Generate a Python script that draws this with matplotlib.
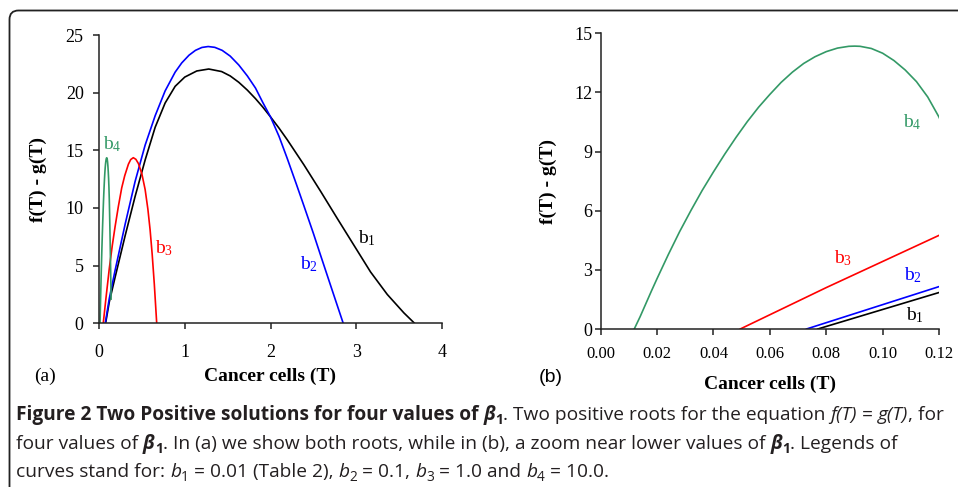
import matplotlib
matplotlib.use("Agg")
import matplotlib.pyplot as plt
from matplotlib.patches import FancyBboxPatch
from matplotlib.transforms import IdentityTransform

plt.rcParams['mathtext.fontset'] = 'custom'
plt.rcParams['mathtext.rm'] = 'Liberation Serif'
plt.rcParams['mathtext.it'] = 'Liberation Serif:italic'

# curves: T values and f(T) - g(T)
t_b1 = [0.077, 0.12, 0.188, 0.305, 0.421, 0.538, 0.655, 0.771, 0.888, 1.0, 1.14, 1.28,
        1.43, 1.53, 1.63, 1.73, 1.825, 1.91, 2.0, 2.1, 2.195, 2.389, 2.584, 2.778, 2.972,
        3.167, 3.362, 3.556, 3.68]
f_b1 = [0, 1.85, 4.0, 7.6, 11.0, 14.16, 17.0, 19.1, 20.55, 21.35, 21.88, 22.05,
        21.83, 21.45, 20.9, 20.22, 19.48, 18.75, 17.9, 16.92, 15.92, 13.75, 11.45, 9.1, 6.78,
        4.45, 2.5, 0.9, 0]

t_b2 = [0.073, 0.12, 0.188, 0.305, 0.421, 0.538, 0.655, 0.771, 0.888, 0.965, 1.05, 1.125,
        1.2, 1.273, 1.35, 1.436, 1.53, 1.63, 1.73, 1.825, 1.91, 2.0, 2.1, 2.195, 2.3, 2.389,
        2.5, 2.584, 2.7, 2.848]
f_b2 = [0, 2.15, 4.6, 8.6, 12.3, 15.45, 18.0, 20.15, 21.78, 22.58, 23.25, 23.67,
        23.92, 24.0, 23.93, 23.67, 23.17, 22.4, 21.45, 20.4, 19.15, 17.9, 16.2, 14.3, 12.1, 10.2,
        7.8, 5.9, 3.3, 0]

t_b3 = [0.0495, 0.08, 0.12, 0.155, 0.188, 0.225, 0.265, 0.30, 0.343, 0.37, 0.40, 0.43,
        0.46, 0.50, 0.538, 0.57, 0.596, 0.62, 0.645, 0.673]
f_b3 = [0, 2.1, 4.75, 6.75, 8.4, 10.1, 11.75, 12.8, 13.8, 14.2, 14.36, 14.22,
        13.85, 12.95, 11.6, 9.9, 8.1, 6.0, 3.4, 0]

t_b4 = [0.0119, 0.014, 0.016, 0.018, 0.020, 0.024, 0.028, 0.032, 0.036, 0.040, 0.044,
        0.048, 0.052, 0.056, 0.060, 0.064, 0.068, 0.072, 0.076, 0.080, 0.084, 0.088, 0.0901,
        0.092, 0.096, 0.100, 0.104, 0.108, 0.112, 0.116, 0.120, 0.124, 0.13, 0.136, 0.141]
f_b4 = [0, 0.63, 1.28, 1.93, 2.56, 3.78, 4.94, 6.01, 7.03, 7.97, 8.87,
        9.72, 10.52, 11.25, 11.9, 12.51, 13.03, 13.47, 13.81, 14.07, 14.25, 14.34, 14.35,
        14.34, 14.23, 13.99, 13.62, 13.14, 12.55, 11.77, 10.75, 9.4, 7.15, 4.55, 2.1]

curves = [(t_b1, f_b1, 'black'), (t_b2, f_b2, '#0000ff'),
          (t_b3, f_b3, '#ff0000'), (t_b4, f_b4, '#339966')]

# label positions (a) and (b)
lab_a = [(3.12, 7.4), (2.45, 5.1), (0.76, 6.5), (0.16, 15.5)]
lab_b = [(0.1116, 0.7), (0.1107, 2.75), (0.0861, 3.6), (0.1105, 10.5)]

W, H = 958, 487
fig = plt.figure(figsize=(W / 100, H / 100), dpi=100)
serif = 'Liberation Serif'


def style_ax(ax, xpad, ypad):
    for s in ['top', 'right']:
        ax.spines[s].set_visible(False)
    for s in ['left', 'bottom']:
        ax.spines[s].set_linewidth(1.1)
        ax.spines[s].set_color('#222222')
    ax.tick_params(direction='out', length=4, width=1.1, color='#222222', labelsize=13)
    ax.tick_params(axis='x', pad=xpad)
    ax.tick_params(axis='y', pad=ypad)
    for t in ax.get_xticklabels() + ax.get_yticklabels():
        t.set_fontfamily(serif)
    ax.set_ylabel("f(T) - g(T)", fontfamily=serif, fontweight='bold', fontsize=14, va='center')
    ax.set_xlabel("Cancer cells (T)", fontfamily=serif, fontweight='bold', fontsize=14, va='center')


ax1 = fig.add_axes([99 / W, 1 - 323.3 / H, 343 / W, 288.3 / H])
ax2 = fig.add_axes([600.7 / W, 1 - 329 / H, 338.3 / W, 295.7 / H])

for ax, labs in [(ax1, lab_a), (ax2, lab_b)]:
    for i, (t, f, c) in enumerate(curves):
        ax.plot(t, f, color=c, lw=1.2)
        ax.text(labs[i][0], labs[i][1], r"b$_%d$" % (i + 1), color=c, fontsize=14,
                fontfamily=serif, ha='center', va='center')

ax1.set_xlim(0, 4)
ax1.set_ylim(0, 25)
ax1.set_xticks([0, 1, 2, 3, 4])
ax1.set_yticks([0, 5, 10, 15, 20, 25])
ax2.set_xlim(0, 0.12)
ax2.set_ylim(0, 15)
ax2.set_xticks([0, 0.02, 0.04, 0.06, 0.08, 0.10, 0.12])
ax2.set_xticklabels(["0.00", "0.02", "0.04", "0.06", "0.08", "0.10", "0.12"])
ax2.set_yticks([0, 3, 6, 9, 12, 15])
style_ax(ax1, 11, 7)
style_ax(ax2, 8, 2)
for t in ax2.get_xticklabels():
    t.set_fontsize(12)
ax1.yaxis.set_label_coords(-0.178, 0.5)
ax1.xaxis.set_label_coords(0.5, -0.183)
ax2.yaxis.set_label_coords(-0.156, 0.5)
ax2.xaxis.set_label_coords(0.5, -0.186)

fig.text(45 / W, 1 - 376 / H, "(a)", fontfamily=serif, fontsize=14, ha='center', va='center')
fig.text(551 / W, 1 - 378 / H, "(b)", fontfamily='Liberation Sans', fontsize=14,
         ha='center', va='center')

# rounded frame
fig.patches.append(FancyBboxPatch((9.5, -30), 1000, H - 10.5 + 30,
                                  boxstyle="round,pad=0,rounding_size=9",
                                  transform=IdentityTransform(), fill=False,
                                  lw=1.3, ec='#222222'))

# caption, drawn piece by piece
cap_font = 'Open Sans'
cap_size = 13.8
renderer = fig.canvas.get_renderer()


def seg_width(s, **kw):
    a = fig.text(0, 0, "|" + s + "|", **kw)
    b = fig.text(0, 0, "||", **kw)
    w = a.get_window_extent(renderer).width - b.get_window_extent(renderer).width
    a.remove()
    b.remove()
    return w


def caption_line(x, y, segs):
    for s, wt, st, sub in segs:
        size = cap_size * (0.72 if sub else 1.0)
        kw = dict(fontfamily=cap_font, fontsize=size, fontweight=wt, fontstyle=st,
                  color='#231f20')
        dy = 4 if sub else 0
        fig.text(x / W, 1 - (y + dy) / H, s, va='baseline', **kw)
        x += seg_width(s, **kw)


N, B, I = 'normal', 'bold', 'italic'
line1 = [("Figure 2 Two Positive solutions for four values of ", B, N, False),
         ("β", B, I, False), ("1", B, N, True),
         (". Two positive roots for the equation ", N, N, False),
         ("f(T)", N, I, False), (" = ", N, N, False), ("g(T)", N, I, False),
         (", for", N, N, False)]
line2 = [("four values of ", N, N, False), ("β", B, I, False), ("1", B, N, True),
         (". In (a) we show both roots, while in (b), a zoom near lower values of ", N, N, False),
         ("β", B, I, False), ("1", B, N, True), (". Legends of", N, N, False)]
line3 = [("curves stand for: ", N, N, False), ("b", N, I, False), ("1", N, N, True),
         (" = 0.01 (Table 2), ", N, N, False), ("b", N, I, False), ("2", N, N, True),
         (" = 0.1, ", N, N, False), ("b", N, I, False), ("3", N, N, True),
         (" = 1.0 and ", N, N, False), ("b", N, I, False), ("4", N, N, True),
         (" = 10.0.", N, N, False)]
caption_line(16, 420, line1)
caption_line(16, 449, line2)
caption_line(16, 477, line3)

fig.savefig("out.png", dpi=100)
